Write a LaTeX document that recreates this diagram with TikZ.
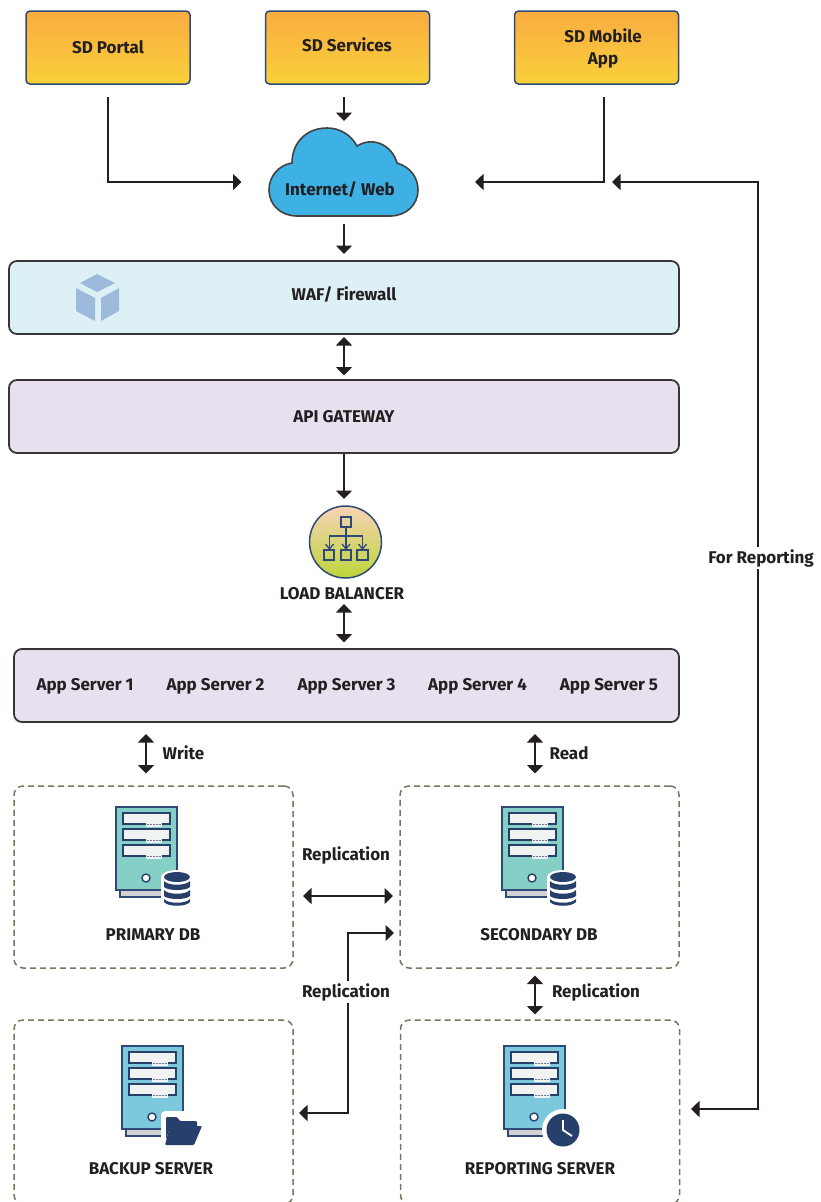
\documentclass[tikz,border=0pt]{standalone}
\usepackage{fontspec}
\setmainfont{Fira Sans}
\usetikzlibrary{arrows.meta,calc}
\definecolor{ink}{HTML}{231F20}
\definecolor{navy}{HTML}{27406B}
\definecolor{edge}{HTML}{2F4A78}
\definecolor{wafc}{HTML}{DDF0F6}
\definecolor{apic}{HTML}{E8E0EE}
\definecolor{dashc}{HTML}{77775F}
\definecolor{cubec}{HTML}{9DB9DC}
\definecolor{tealc}{HTML}{84CFC6}
\definecolor{bluec}{HTML}{7CC9DE}
\definecolor{slotc}{HTML}{F1F3F2}
\definecolor{basec}{HTML}{D3D3D3}
\tikzset{
  txt/.style={font=\bfseries\fontsize{17}{22}\selectfont,text=ink,inner sep=0pt,align=center},
  topbox/.style={draw=edge,line width=1.5pt,rounded corners=4pt,top color=orange!0!white,top color={rgb,255:red,249;green,172;blue,64},bottom color={rgb,255:red,249;green,208;blue,59},minimum width=164pt,minimum height=73pt,inner sep=0pt},
  bar/.style={draw=ink!90,line width=1.8pt,rounded corners=8pt,inner sep=0pt,minimum height=73pt},
  dashbox/.style={draw=dashc,line width=1.5pt,dash pattern=on 6pt off 4pt,rounded corners=9pt,inner sep=0pt,minimum width=279pt},
  arr/.style={draw=ink,line width=1.6pt,-{Triangle[length=8.5pt,width=16pt]}},
  biarr/.style={draw=ink,line width=1.6pt,{Triangle[length=8.5pt,width=16pt]}-{Triangle[length=8.5pt,width=16pt]}},
  cloudshape/.style={fill={rgb,255:red,61;green,176;blue,228},draw=ink!85,line width=1.6pt},
  blank/.style={fill=white,inner sep=2pt},
}
\newcommand{\srv}[3]{%
  \begin{scope}[shift={(#1,#2)}]
    \draw[edge,fill=basec,line width=1.3pt] (4,83) rectangle (57,90);
    \draw[edge,fill=#3,line width=1.5pt] (0,0) rectangle (61,83);
    \foreach \yy in {6,22,38}{
      \draw[navy,fill=slotc,line width=1.5pt] (7,\yy) rectangle (54,{\yy+11});
      \fill[slotc] (30,{\yy+9}) rectangle (46,{\yy+13.5});
      \draw[navy!70,line width=1pt,dash pattern=on 1.5pt off 1.5pt] (31,{\yy+11}) -- (45,{\yy+11});
    }
    \draw[navy,fill=white,line width=1.4pt] (30,71) circle (4pt);
  \end{scope}}
\newcommand{\dbicon}[2]{%
  \begin{scope}[shift={(#1,#2)}]
    \fill[white] (-16,3) rectangle (16,33);
    \fill[white] (0,3) ellipse (16pt and 7pt);
    \fill[white] (0,30) ellipse (16pt and 6pt);
    \fill[navy] (-13,3) arc[start angle=180,end angle=360,x radius=13,y radius=-5] arc[start angle=0,end angle=180,x radius=13,y radius=-5] -- cycle;
    \fill[navy] (-13,7) .. controls (-9,12) and (9,12) .. (13,7) -- (13,13) .. controls (9,17) and (-9,17) .. (-13,13) -- cycle;
    \fill[navy] (-13,16) .. controls (-9,21) and (9,21) .. (13,16) -- (13,22) .. controls (9,26) and (-9,26) .. (-13,22) -- cycle;
    \fill[navy] (-13,25) .. controls (-9,30) and (9,30) .. (13,25) -- (13,28) .. controls (9,33) and (-9,33) .. (-13,28) -- cycle;
  \end{scope}}
\begin{document}
\begin{tikzpicture}[x=1pt,y=-1pt]
\clip (0,0) rectangle (820,1202);
% top row
\node[topbox,txt] (portal) at (108,47.5) {};
\node[txt] at (108,47.5) {SD Portal};
\node[topbox] (services) at (347.5,47.5) {};
\node[txt] at (347,45) {SD Services};
\node[topbox] (mobile) at (596.5,47.5) {};
\node[txt,font=\bfseries\fontsize{17}{22}\selectfont] at (603,48) {SD Mobile\\App};
% cloud
\node[minimum width=150pt,minimum height=88pt,inner sep=0pt] (cloud) at (344,172) {};
\draw[cloudshape] (292,163) .. controls (292,143) and (306,128) .. (327,128)
  .. controls (340,128) and (351,135) .. (357,146)
  .. controls (373,136) and (392,145) .. (397,163)
  .. controls (410,167) and (418,177) .. (418,190)
  .. controls (418,205) and (406,216) .. (390,216)
  -- (297,216) .. controls (281,216) and (269,205) .. (269,190)
  .. controls (269,176) and (279,165) .. (292,163) -- cycle;
\node[txt] (cloudtext) at (340,190) {Internet/ Web};
% bars
\node[bar,fill=wafc,minimum width=670pt] (waf) at (344,297.5) {};
\node[txt] at (344,295) {WAF/ Firewall};
\fill[cubec] (97,274) -- (115,283) -- (97,292) -- (80,283) -- cycle;
\fill[cubec] (76,288) -- (95,298) -- (95,321) -- (76,311) -- cycle;
\fill[cubec] (101,298) -- (119,288) -- (119,311) -- (101,321) -- cycle;
\node[bar,fill=apic,minimum width=670pt] (api) at (344,416.5) {};
\node[txt] at (344,417) {API GATEWAY};
% load balancer
\node[circle,draw=edge,line width=1.5pt,minimum size=72pt,inner sep=0pt,top color={rgb,255:red,246;green,211;blue,181},bottom color={rgb,255:red,189;green,213;blue,58}] (lb) at (345.5,542) {};
\begin{scope}[edge,line width=1.3pt]
  \draw (341,517) rectangle (351,527);
  \draw (324,550) rectangle (334,560);
  \draw (341,550) rectangle (351,560);
  \draw (357,550) rectangle (368,560);
  \draw (346,527) -- (346,549);
  \draw (329.5,549) -- (329.5,536) -- (362.5,536) -- (362.5,549);
  \foreach \xx in {329.5,346,362.5}{\draw (\xx-4,544) -- (\xx,549) -- (\xx+4,544);}
\end{scope}
\node[txt] (lbl) at (342,594) {LOAD BALANCER};
% app servers
\node[bar,fill=apic,minimum width=665pt] (app) at (346.5,685.5) {};
\node[txt] (a1) at (85,686) {App Server 1};
\node[txt] (a2) at (215.5,686) {App Server 2};
\node[txt] (a3) at (346.5,686) {App Server 3};
\node[txt] (a4) at (477.5,686) {App Server 4};
\node[txt] (a5) at (609,686) {App Server 5};
% dashed groups
\node[dashbox,minimum height=182pt] (primary) at (153.5,877) {};
\node[dashbox,minimum height=182pt] (secondary) at (539.5,877) {};
\node[dashbox,minimum height=184pt] (backup) at (153.5,1112) {};
\node[dashbox,minimum height=184pt] (reporting) at (540,1112) {};
% icons
\srv{116}{807}{tealc}\dbicon{177}{874}
\srv{502}{807}{tealc}\dbicon{563}{874}
\srv{122}{1046}{bluec}
\fill[white,rounded corners=4pt] (161,1111) rectangle (206,1150);
\fill[navy,rounded corners=1pt] (166,1117) -- (177,1117) -- (180,1121) -- (197,1121) -- (197,1127) -- (170,1127) -- (166,1140) -- cycle;
\fill[navy,rounded corners=1pt] (170,1126) -- (202,1126) -- (194,1145) -- (165,1145) -- cycle;
\srv{504}{1046}{bluec}
\fill[white] (563,1130) circle (21pt);
\fill[navy] (563,1130) circle (16.5pt);
\draw[white,line width=1.8pt] (563,1120) -- (563,1130) -- (572,1136);
\node[txt] (plabel) at (153,935) {PRIMARY DB};
\node[txt] (slabel) at (539,935) {SECONDARY DB};
\node[txt] (blabel) at (151,1169) {BACKUP SERVER};
\node[txt] (rlabel) at (540,1169) {REPORTING SERVER};
% free ends
\coordinate (cloudL) at (241.5,182);
\coordinate (cloudR) at (475,182);
\coordinate (mobileS) at (604,97);
\coordinate (portalS) at (108,97);
\coordinate (serviceS) at (344,97);
\coordinate (cloudT) at (344,121);
\coordinate (cloudB) at (344,224);
\coordinate (wafT) at (344,254);
\coordinate (wafB) at (344,337);
\coordinate (apiT) at (344,375.5);
\coordinate (apiB) at (344,454);
\coordinate (lbT) at (344,499);
\coordinate (lbB) at (344,604);
\coordinate (appT) at (344,642.5);
\coordinate (wA) at (146,734);
\coordinate (wB) at (146,773.5);
\coordinate (rA) at (535,734);
\coordinate (rB) at (535,773.5);
\coordinate (hA) at (303,896);
\coordinate (hB) at (393,896);
\coordinate (vA) at (394,933);
\coordinate (vB) at (299,1113);
\coordinate (cA) at (535,975.5);
\coordinate (cB) at (535,1014.5);
\coordinate (repR) at (691,1109);
\coordinate (repT) at (612,182);
% connectors
\draw[arr] (portalS) |- (cloudL);
\draw[arr] (mobileS) |- (cloudR);
\draw[arr] (serviceS) -- (cloudT);
\draw[arr] (cloudB) -- (wafT);
\draw[biarr] (wafB) -- (apiT);
\draw[arr] (apiB) -- (lbT);
\draw[biarr] (lbB) -- (appT);
\draw[biarr] (wA) -- (wB);
\draw[biarr] (rA) -- (rB);
\draw[biarr] (hA) -- (hB);
\draw[biarr] (cA) -- (cB);
\draw[biarr] (vB) -| (348,933) -- (vA);
\draw[biarr] (repR) -| (758,182) -- (repT);
\node[txt] (wlabel) at (183.5,753) {Write};
\node[txt] (rdlabel) at (569,753) {Read};
\node[txt] (rep1) at (346,855) {Replication};
\node[txt,blank] (rep2) at (346,992) {Replication};
\node[txt] (rep3) at (596,992) {Replication};
\node[txt,blank] (forrep) at (761,558) {For Reporting};
\end{tikzpicture}
\end{document}
